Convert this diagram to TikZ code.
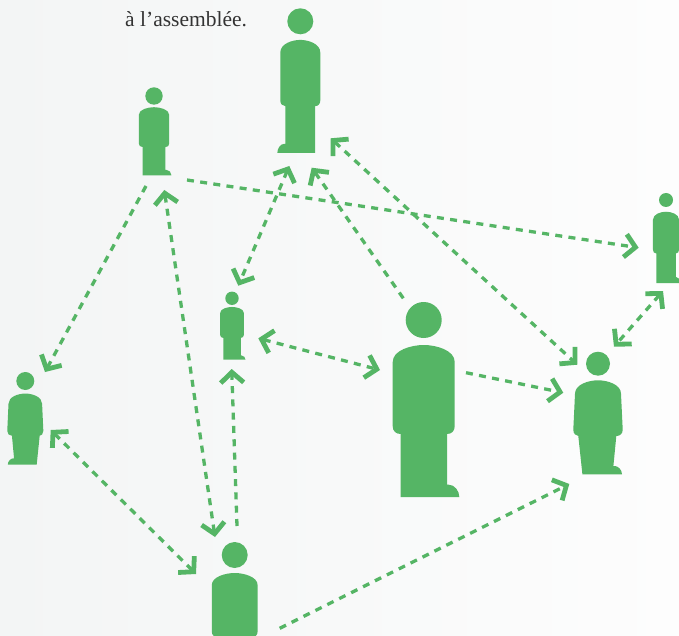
\documentclass[tikz,border=0pt]{standalone}
\usepackage{fontspec}
\setmainfont{Liberation Serif}
\usetikzlibrary{arrows.meta}
\definecolor{figgreen}{HTML}{55B565}
\definecolor{inktext}{HTML}{333333}
\definecolor{bgleft}{HTML}{F3F5F5}
\definecolor{bgright}{HTML}{FDFDFD}
\tikzset{
  figbody/.style={fill=figgreen,draw=none},
  headdot/.style={circle,fill=figgreen,draw=none,inner sep=0pt,outer sep=0pt},
  chev/.tip={Straight Barb[length=10.5pt,width=23pt,line width=4.8pt]},
  oneway/.style={draw=figgreen,line width=3.3pt,dash pattern=on 7pt off 6.3pt,-chev},
  twoway/.style={draw=figgreen,line width=3.3pt,dash pattern=on 7pt off 6.3pt,chev-chev},
  caption/.style={font=\fontsize{21.5}{24}\selectfont,text=inktext,inner sep=0pt,anchor=base west}
}
% name, cx, cy, r, xs, ys
\newcommand{\straightfig}[6]{%
  \node[headdot,minimum size=#4*2pt] (#1) at (#2,#3) {};
  \begin{scope}[shift={(#2,#3)},xscale=#5,yscale=#6]
    \path[figbody] (-31,42) .. controls (-31,30) and (-12,25) .. (0,25)
      .. controls (12,25) and (31,30) .. (31,42) -- (31,106)
      .. controls (31,111) and (28,114) .. (23.3,114) -- (23.3,164.7) -- (25,164.7)
      .. controls (31,164.7) and (35.6,171) .. (35.6,177) -- (-23,177) -- (-23,114)
      .. controls (-28,114) and (-31,111) .. (-31,106) -- cycle;
  \end{scope}}
\newcommand{\taperfig}[6]{%
  \node[headdot,minimum size=#4*2pt] (#1) at (#2,#3) {};
  \begin{scope}[shift={(#2,#3)},xscale=#5,yscale=#6]
    \path[figbody] (-23,30) .. controls (-23,21) and (-10,16.6) .. (0,16.6)
      .. controls (10,16.6) and (23,21) .. (23,30) -- (24.7,66)
      .. controls (24.7,70) and (22,72.3) .. (18.3,72.3) -- (15.4,102.3) -- (17,102.3)
      .. controls (20,102.5) and (24,106) .. (24,110.6) -- (-15.6,110.6) -- (-19.7,72.3)
      .. controls (-22,72.3) and (-24.7,70) .. (-24.7,66) -- cycle;
  \end{scope}}
\begin{document}
\begin{tikzpicture}[x=1pt,y=-1pt]
  \useasboundingbox (0,0) rectangle (679,636);
  \clip (0,0) rectangle (679,636);
  \shade[left color=bgleft,right color=bgright] (0,0) rectangle (679,636);
  \node[caption] (cap) at (125,27) {à l’assemblée.};

  \straightfig{big}{423.7}{320}{18}{1}{1}
  \straightfig{top}{300.3}{21.3}{13}{-0.645}{0.744}
  \straightfig{tl}{154}{96}{8.7}{0.49}{0.448}
  \straightfig{ctr}{232}{298.3}{6.7}{0.38}{0.347}
  \straightfig{rt}{666}{200}{7}{0.42}{0.469}
  \straightfig{bot}{234.7}{555}{13}{0.74}{0.72}
  \taperfig{rgt}{598}{363.7}{12}{1}{1}
  \taperfig{lft}{25.3}{381}{9}{-0.73}{0.757}

  \coordinate (a1s) at (146,186);    \coordinate (a1e) at (45,372);
  \coordinate (a2s) at (164.3,190);  \coordinate (a2e) at (215,537);
  \coordinate (a3s) at (187,180);    \coordinate (a3e) at (638.7,247.7);
  \coordinate (a4s) at (289.3,166);  \coordinate (a4e) at (238.3,285.7);
  \coordinate (a5s) at (403.3,298.3);\coordinate (a5e) at (311.7,167.7);
  \coordinate (a6s) at (330.7,138.3);\coordinate (a6e) at (577.3,364.7);
  \coordinate (a7s) at (663,291);    \coordinate (a7e) at (614,346.7);
  \coordinate (a8s) at (258.3,338.3);\coordinate (a8e) at (380,370);
  \coordinate (a9s) at (466,372.7);  \coordinate (a9e) at (563.3,392.7);
  \coordinate (a10s) at (237,526);   \coordinate (a10e) at (231.7,369);
  \coordinate (a11s) at (50.7,430);  \coordinate (a11e) at (196,574);
  \coordinate (a12s) at (279.7,628.3);\coordinate (a12e) at (569.3,484);

  \draw[oneway] (a1s) -- (a1e);
  \draw[twoway] (a2s) -- (a2e);
  \draw[oneway] (a3s) -- (a3e);
  \draw[twoway] (a4s) -- (a4e);
  \draw[oneway] (a5s) -- (a5e);
  \draw[twoway] (a6s) -- (a6e);
  \draw[twoway] (a7s) -- (a7e);
  \draw[twoway] (a8s) -- (a8e);
  \draw[oneway] (a9s) -- (a9e);
  \draw[oneway] (a10s) -- (a10e);
  \draw[twoway] (a11s) -- (a11e);
  \draw[oneway] (a12s) -- (a12e);
\end{tikzpicture}
\end{document}
